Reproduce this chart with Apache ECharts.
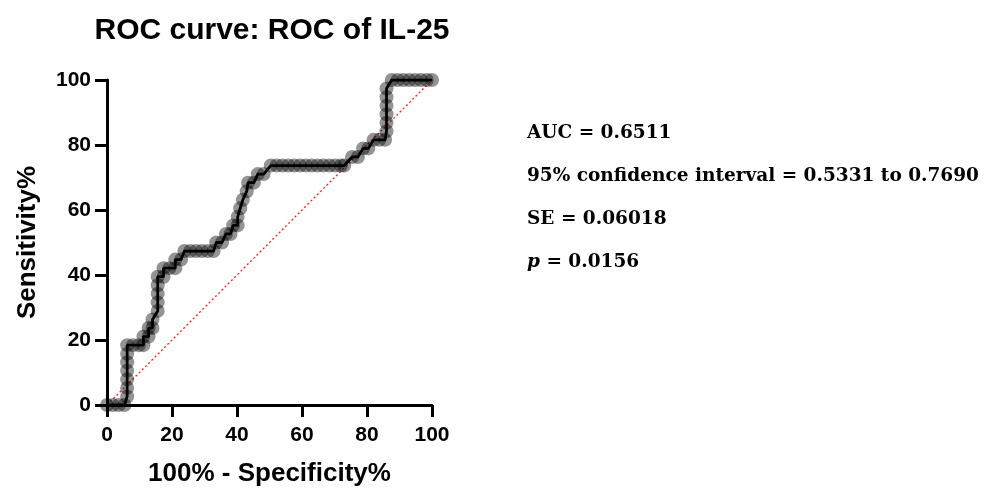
<!DOCTYPE html>
<html>
<head>
<meta charset="utf-8">
<script src="https://cdn.jsdelivr.net/npm/echarts@6/dist/echarts.min.js"></script>
<style>html,body{margin:0;padding:0;background:#fff}#c{width:988px;height:488px}</style>
</head>
<body>
<div id="c"></div>
<script>
// ROC points: 100% - Specificity% (x) and Sensitivity% (y)
const fpr  = [0, 1.8, 3.6, 5.4, 6.2, 6.2, 6.2, 6.2, 6.2, 6.2, 6.2, 8.0, 9.8, 11.2, 11.2, 12.8, 12.8, 14.0, 14.0, 15.6, 15.6, 15.6, 15.6, 15.6, 17.4, 17.4, 19.2, 21.0, 21.0, 22.8, 23.8, 25.6, 27.4, 29.2, 31.0, 32.8, 33.6, 35.4, 36.6, 38.0, 38.8, 40.2, 40.2, 41.0, 41.8, 43.0, 43.4, 45.2, 46.4, 48.2, 50.4, 52.2, 54.0, 55.8, 57.6, 59.4, 61.2, 63.0, 64.8, 66.6, 68.4, 70.2, 72.0, 73.0, 75.4, 77.2, 78.8, 80.4, 82.0, 83.8, 85.6, 86.0, 86.0, 86.0, 86.0, 86.0, 86.0, 87.6, 89.4, 91.2, 93.0, 94.8, 96.6, 98.4, 100];
const sens = [0, 0, 0, 0, 2.63, 5.26, 7.89, 10.53, 13.16, 15.79, 18.42, 18.42, 18.42, 18.42, 21.05, 21.05, 23.68, 23.68, 26.32, 28.95, 31.58, 34.21, 36.84, 39.47, 39.47, 42.11, 42.11, 42.11, 44.74, 44.74, 47.37, 47.37, 47.37, 47.37, 47.37, 47.37, 50.0, 50.0, 52.63, 52.63, 55.26, 55.26, 57.89, 60.53, 63.16, 65.79, 68.42, 68.42, 71.05, 71.05, 73.68, 73.68, 73.68, 73.68, 73.68, 73.68, 73.68, 73.68, 73.68, 73.68, 73.68, 73.68, 73.68, 73.68, 76.32, 76.32, 78.95, 78.95, 81.58, 81.58, 81.58, 84.21, 86.84, 89.47, 92.11, 94.74, 97.37, 100, 100, 100, 100, 100, 100, 100, 100];
const refLine = [[0, 0], [100, 100]];
const xTicks = [0, 20, 40, 60, 80, 100];
const yTicks = [0, 20, 40, 60, 80, 100];
const statLines = ['AUC = 0.6511', '95% confidence interval = 0.5331 to 0.7690', 'SE = 0.06018', '{i|p} = 0.0156'];

const pts = fpr.map((x, i) => [x, sens[i]]);
const chart = echarts.init(document.getElementById('c'), null, {renderer: 'canvas'});
const axisCommon = {
  type: 'value', min: 0, max: 100, interval: 20,
  axisLine: {show: true, onZero: false, lineStyle: {color: '#000', width: 3}},
  axisTick: {show: true, inside: false, length: 12, lineStyle: {color: '#000', width: 3}},
  splitLine: {show: false},
  nameTextStyle: {fontFamily: 'Liberation Sans', fontWeight: 'bold', fontSize: 26, color: '#000'}
};
const sansBold = {fontFamily: 'Liberation Sans', fontWeight: 'bold', fontSize: 21, color: '#000'};
const serif = 'bold 18.5px "DejaVu Serif"';
chart.setOption({
  animation: false,
  title: {
    text: 'ROC curve: ROC of IL-25', left: 267, top: 11, textAlign: 'center',
    textStyle: {fontFamily: 'Liberation Sans', fontWeight: 'bold', fontSize: 30, color: '#000'}
  },
  grid: {left: 107, top: 80, width: 325, height: 325, containLabel: false, outerBoundsMode: 'none'},
  xAxis: Object.assign({}, axisCommon, {
    name: '100% - Specificity%', nameLocation: 'middle', nameGap: 56,
    axisLabel: Object.assign({margin: 20, formatter: v => xTicks.includes(v) ? String(v) : ''}, sansBold)
  }),
  yAxis: Object.assign({}, axisCommon, {
    name: 'Sensitivity%', nameLocation: 'middle', nameGap: 66,
    axisLabel: Object.assign({margin: 16, formatter: v => yTicks.includes(v) ? String(v) : ''}, sansBold)
  }),
  graphic: statLines.map((t, i) => ({
    type: 'text', left: 527, top: 124 + i * 43,
    style: {
      text: t, font: serif, fill: '#000',
      rich: {i: {fontStyle: 'italic', fontWeight: 'bold', fontFamily: 'DejaVu Serif', fontSize: 18.5}}
    }
  })),
  series: [
    {type: 'line', data: refLine, symbol: 'none', silent: true, z: 1,
     lineStyle: {color: '#ff2a2a', width: 1.4, type: [2, 2.5], opacity: 1}},
    {type: 'scatter', data: pts, symbol: 'circle', symbolSize: 14, z: 2,
     itemStyle: {color: 'rgba(0,0,0,0.42)', opacity: 1}},
    {type: 'line', data: pts, symbol: 'none', z: 3,
     lineStyle: {color: '#000', width: 2.8}}
  ]
});
</script>
</body>
</html>
